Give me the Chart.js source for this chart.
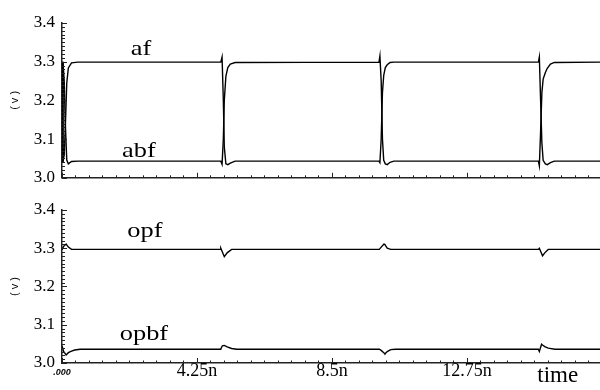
<!DOCTYPE html>
<html>
<head>
<meta charset="utf-8">
<script src="https://cdn.jsdelivr.net/npm/chart.js@4.4.1/dist/chart.umd.min.js"></script>
<style>
  body { margin: 0; background: #fff; }
  #wrap { position: relative; width: 600px; height: 390px; }
  #topBox { position: absolute; left: 0; top: 0; z-index: 2; }
  #botBox { position: absolute; left: 0; top: 190px; z-index: 1; }
</style>
</head>
<body>
<div id="wrap">
  <div id="topBox"><canvas id="topChart" width="600" height="195"></canvas></div>
  <div id="botBox"><canvas id="botChart" width="600" height="200"></canvas></div>
</div>
<script>
// time in ns, voltages in V
const tTop = [0, 0.03, 0.07, 0.1, 0.15, 0.2, 0.3, 0.5,
  5.0, 5.04, 5.08, 5.11, 5.16, 5.22, 5.3, 5.45,
  9.98, 10.01, 10.05, 10.09, 10.13, 10.18, 10.24, 10.33, 10.45,
  15.0, 15.03, 15.07, 15.11, 15.15, 15.22, 15.28, 15.38, 15.5, 16.94];
const af = [3.30, 3.04, 3.06, 3.12, 3.245, 3.284, 3.297, 3.299,
  3.299, 3.312, 3.20, 3.08, 3.036, 3.034, 3.038, 3.043,
  3.043, 3.039, 3.10, 3.22, 3.265, 3.285, 3.292, 3.298, 3.299,
  3.299, 3.312, 3.20, 3.09, 3.045, 3.036, 3.034, 3.039, 3.043, 3.043];
const abf = [3.04, 3.30, 3.25, 3.15, 3.046, 3.036, 3.042, 3.043,
  3.043, 3.035, 3.10, 3.20, 3.262, 3.285, 3.294, 3.298,
  3.299, 3.315, 3.25, 3.10, 3.045, 3.036, 3.034, 3.040, 3.043,
  3.043, 3.031, 3.12, 3.22, 3.255, 3.272, 3.283, 3.294, 3.298, 3.299];

const tBot = [0, 0.05, 0.13, 0.2, 0.3, 0.4, 0.57,
  4.98, 5.0, 5.05, 5.11, 5.2, 5.34, 5.5,
  9.99, 10.05, 10.14, 10.17, 10.24, 10.35, 10.5,
  15.0, 15.03, 15.1, 15.13, 15.2, 15.31, 15.52, 16.94];
const opf = [3.296, 3.305, 3.311, 3.303, 3.297, 3.297, 3.297,
  3.297, 3.300, 3.290, 3.278, 3.288, 3.297, 3.297,
  3.297, 3.303, 3.311, 3.309, 3.300, 3.297, 3.297,
  3.297, 3.300, 3.286, 3.280, 3.288, 3.297, 3.297, 3.297];
const opbf = [3.045, 3.030, 3.021, 3.027, 3.031, 3.034, 3.036,
  3.036, 3.037, 3.045, 3.046, 3.042, 3.038, 3.036,
  3.036, 3.033, 3.026, 3.024, 3.030, 3.035, 3.036,
  3.036, 3.030, 3.049, 3.047, 3.043, 3.039, 3.036, 3.036];

const xTickValues = [0, 4.25, 8.5, 12.75];
const xTickLabels = ['.000', '4.25n', '8.5n', '12.75n'];
const xTitle = 'time';
const xTitleAt = 15.61;

const xMin = 0, xMax = 16.94;
const yMin = 3.0, yMax = 3.4;

const serif = "'Liberation Serif', 'Times New Roman', Times, serif";
const sans = "'Liberation Sans', Arial, sans-serif";

function pts(t, v) {
  return t.map((x, i) => ({ x: x, y: v[i] }));
}

function lineSet(label, data) {
  return {
    label: label,
    data: data,
    borderColor: '#000',
    borderWidth: 1.4,
    pointRadius: 0,
    tension: 0
  };
}

// inward minor/major ticks on both axes
const innerTicks = {
  id: 'innerTicks',
  afterDraw(chart) {
    const ctx = chart.ctx;
    const a = chart.chartArea;
    const xs = chart.scales.x, ys = chart.scales.y;
    ctx.save();
    ctx.strokeStyle = '#222';
    ctx.lineWidth = 1;
    ctx.beginPath();
    for (let i = 0; i * 0.425 <= xMax + 1e-9; i++) {
      const px = Math.round(xs.getPixelForValue(i * 0.425)) + 0.5;
      const len = i % 10 === 0 ? 5 : 2.5;
      ctx.moveTo(px, a.bottom);
      ctx.lineTo(px, a.bottom - len);
    }
    for (let i = 0; i <= 40; i++) {
      const py = Math.round(ys.getPixelForValue(yMin + i * 0.01)) + 0.5;
      const len = i % 10 === 0 ? 5 : 3;
      ctx.moveTo(a.left, py);
      ctx.lineTo(a.left + len, py);
    }
    ctx.stroke();
    ctx.restore();
  }
};

// curve names written next to the traces
const traceNames = {
  id: 'traceNames',
  afterDatasetsDraw(chart, args, opts) {
    const ctx = chart.ctx;
    ctx.save();
    ctx.fillStyle = '#000';
    ctx.font = '22px ' + serif;
    ctx.textAlign = 'center';
    ctx.textBaseline = 'alphabetic';
    (opts.items || []).forEach(it => {
      const x = chart.scales.x.getPixelForValue(it.t);
      const y = chart.scales.y.getPixelForValue(it.v);
      ctx.save();
      ctx.translate(x, y);
      ctx.scale(1.2, 1);
      ctx.fillText(it.text, 0, 0);
      ctx.restore();
    });
    ctx.restore();
  }
};

function makeOptions(isBottom, names) {
  return {
    responsive: false,
    animation: false,
    layout: { padding: { top: isBottom ? 20 : 23, left: 0, right: 0, bottom: 0 } },
    plugins: {
      legend: { display: false },
      tooltip: { enabled: false },
      traceNames: { items: names }
    },
    scales: {
      x: {
        type: 'linear',
        min: xMin,
        max: xMax,
        grid: { display: false, drawTicks: false },
        border: { display: true, color: '#222', width: 1.5 },
        afterBuildTicks(scale) {
          const tk = xTickValues.map(v => ({ value: v }));
          if (isBottom) tk.push({ value: xTitleAt });
          scale.ticks = tk;
        },
        afterFit(scale) { scale.height = isBottom ? 27 : 12; },
        ticks: {
          display: isBottom,
          autoSkip: false,
          maxRotation: 0,
          padding: -7,
          color: '#000',
          font(c) {
            if (c.index === 0) return { family: sans, size: 9, style: 'italic', weight: 'bold', lineHeight: '33px' };
            if (c.index === xTickValues.length) return { family: serif, size: 23, lineHeight: '40px' };
            return { family: serif, size: 18, lineHeight: '30px' };
          },
          callback(v, i) {
            return i < xTickLabels.length ? xTickLabels[i] : xTitle;
          }
        }
      },
      y: {
        min: yMin,
        max: yMax,
        grid: { display: false, drawTicks: false },
        border: { display: true, color: '#222', width: 1.5 },
        afterFit(scale) { scale.width = 62; },
        title: {
          display: true,
          text: '( v )',
          color: '#000',
          font: { family: sans, size: 11 },
          padding: { top: 8, bottom: 0 }
        },
        ticks: {
          stepSize: 0.1,
          padding: 7,
          color: '#000',
          font: { family: serif, size: 17 },
          callback(v) { return v.toFixed(1); }
        }
      }
    }
  };
}

new Chart(document.getElementById('topChart'), {
  type: 'line',
  data: {
    datasets: [lineSet('af', pts(tTop, af)), lineSet('abf', pts(tTop, abf))]
  },
  options: makeOptions(false, [
    { text: 'af', t: 2.49, v: 3.317 },
    { text: 'abf', t: 2.42, v: 3.054 }
  ]),
  plugins: [innerTicks, traceNames]
});

new Chart(document.getElementById('botChart'), {
  type: 'line',
  data: {
    datasets: [lineSet('opf', pts(tBot, opf)), lineSet('opbf', pts(tBot, opbf))]
  },
  options: makeOptions(true, [
    { text: 'opf', t: 2.61, v: 3.330 },
    { text: 'opbf', t: 2.58, v: 3.060 }
  ]),
  plugins: [innerTicks, traceNames]
});
</script>
</body>
</html>
